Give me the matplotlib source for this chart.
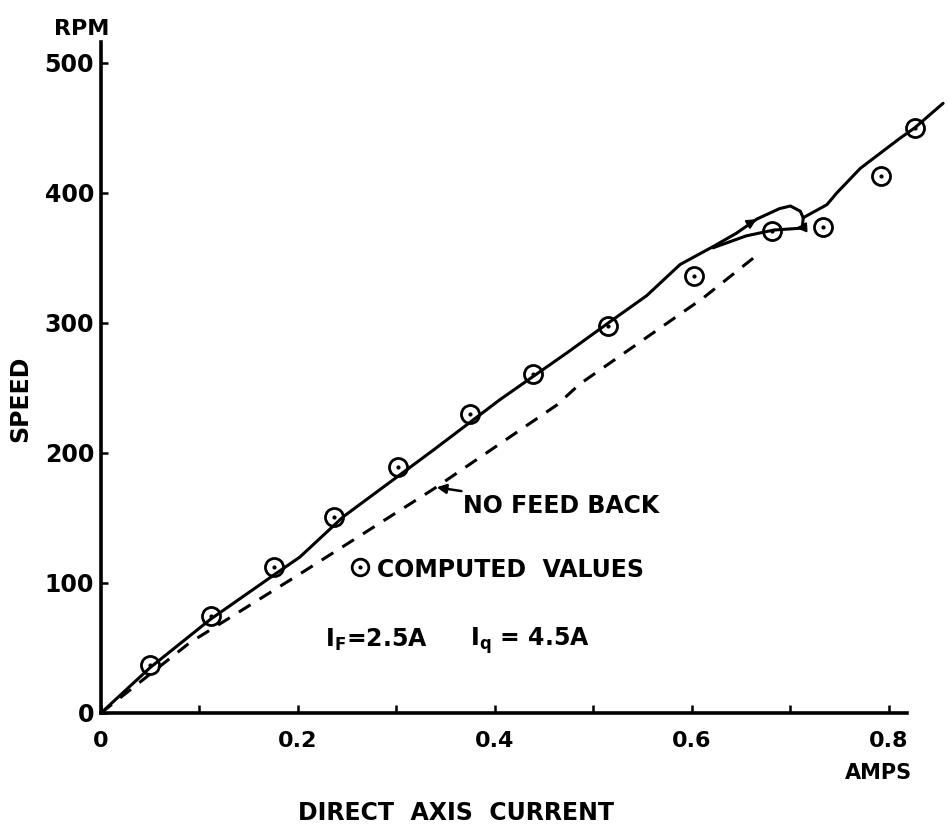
import matplotlib.pyplot as plt
import numpy as np

# Measured speed (solid curve), main path incl. upper branch of the loop
amps = [0, 0.05, 0.111, 0.179, 0.202, 0.246, 0.337, 0.405, 0.473, 0.515,
        0.554, 0.588, 0.622, 0.645, 0.666, 0.689, 0.700, 0.710, 0.713,
        0.737, 0.747, 0.771, 0.811, 0.826, 0.855]
rpm = [0, 35, 72, 108, 120, 151, 202, 241, 277, 300,
       321, 345, 359, 369, 380, 388, 390, 386, 381,
       391, 400, 419, 442, 450, 469]

# lower (return) branch of the loop
loop_amps = [0.622, 0.655, 0.683, 0.712, 0.713]
loop_rpm = [358, 367, 371.5, 373, 381]

# No feed back (dashed)
nofb_amps = [0, 0.09, 0.202, 0.337, 0.463, 0.486, 0.611, 0.669]
nofb_rpm = [0, 54, 107, 172, 237, 253, 319, 354]

# Computed values (circles)
comp_amps = [0.050, 0.112, 0.176, 0.237, 0.302, 0.375, 0.439, 0.515,
             0.602, 0.681, 0.733, 0.792, 0.826]
comp_rpm = [37, 75, 112, 151, 189, 230, 261, 298, 336, 371, 374, 413, 450]

x_major = [0, 0.2, 0.4, 0.6, 0.8]
x_labels = ["0", "0.2", "0.4", "0.6", "0.8"]
x_minor = [0.1, 0.3, 0.5, 0.7]
y_major = [0, 100, 200, 300, 400, 500]

plt.rcParams['font.family'] = ['DejaVu Sans']
plt.rcParams['font.weight'] = 'bold'

fig = plt.figure(figsize=(9.49, 8.36), dpi=100)
ax = fig.add_axes([101 / 949, 123 / 836, 1 - 101 / 949, 702 / 836])
ax.set_xlim(0, 0.861)
ax.set_ylim(0, 540)

lw = 2.2
ax.plot(amps, rpm, color="black", lw=lw, solid_capstyle="round")
ax.plot(loop_amps, loop_rpm, color="black", lw=lw)
ax.plot(nofb_amps, nofb_rpm, color="black", lw=lw, dashes=(4.5, 3.5))

circ = dict(marker="o", ms=13, mfc="none", mec="black", mew=2.0, ls="none")
ax.plot(comp_amps, comp_rpm, **circ)
ax.plot(comp_amps, comp_rpm, marker=".", ms=4, color="black", ls="none")

# loop direction arrows
ax.annotate("", xy=(0.668, 381), xytext=(0.655, 375),
            arrowprops=dict(arrowstyle="-|>", color="black", lw=1.5, mutation_scale=14))
ax.annotate("", xy=(0.703, 373), xytext=(0.714, 373.5),
            arrowprops=dict(arrowstyle="-|>", color="black", lw=1.5, mutation_scale=14))

# spines and ticks
for s in ["top", "right"]:
    ax.spines[s].set_visible(False)
ax.spines["left"].set_bounds(0, 516)
ax.spines["bottom"].set_bounds(0, 0.818)
ax.spines["left"].set_linewidth(2.6)
ax.spines["bottom"].set_linewidth(2.6)

ax.set_xticks(x_major)
ax.set_xticklabels(x_labels)
ax.set_xticks(x_minor, minor=True)
ax.set_yticks(y_major)
ax.tick_params(axis="x", which="both", direction="in", length=6, width=1.8,
               pad=13, labelsize=16)
ax.tick_params(axis="y", direction="in", length=5, width=1.8, pad=5, labelsize=17)

# labels
ax.text(-0.0193, 526, "RPM", ha="center", va="center", fontsize=16)
ax.text(-0.082, 242, "SPEED", ha="center", va="center", rotation=90, fontsize=17)
ax.text(0.360, -77, "DIRECT  AXIS  CURRENT", ha="center", va="center",
        fontsize=17, clip_on=False)
ax.text(0.789, -46.5, "AMPS", ha="center", va="center", fontsize=15, clip_on=False)

# annotations
ax.annotate("NO FEED BACK", xy=(0.3408, 173.6), xytext=(0.3675, 159),
            ha="left", va="center", fontsize=17,
            arrowprops=dict(arrowstyle="-|>", color="black", lw=1.8, mutation_scale=14,
                            shrinkA=2, shrinkB=0))
ax.plot([0.263], [112.5], marker="o", ms=12, mfc="none", mec="black", mew=2.0, ls="none")
ax.plot([0.263], [112.5], marker=".", ms=4, color="black", ls="none")
ax.text(0.280, 110, "COMPUTED  VALUES", ha="left", va="center", fontsize=17)
ax.text(0.227, 56, r"I$_\mathbf{F}$=2.5A", ha="left", va="center", fontsize=17)
ax.text(0.3746, 56, r"I$_\mathbf{q}$ = 4.5A", ha="left", va="center", fontsize=17)

fig.savefig("out.png", dpi=100, facecolor="white")
